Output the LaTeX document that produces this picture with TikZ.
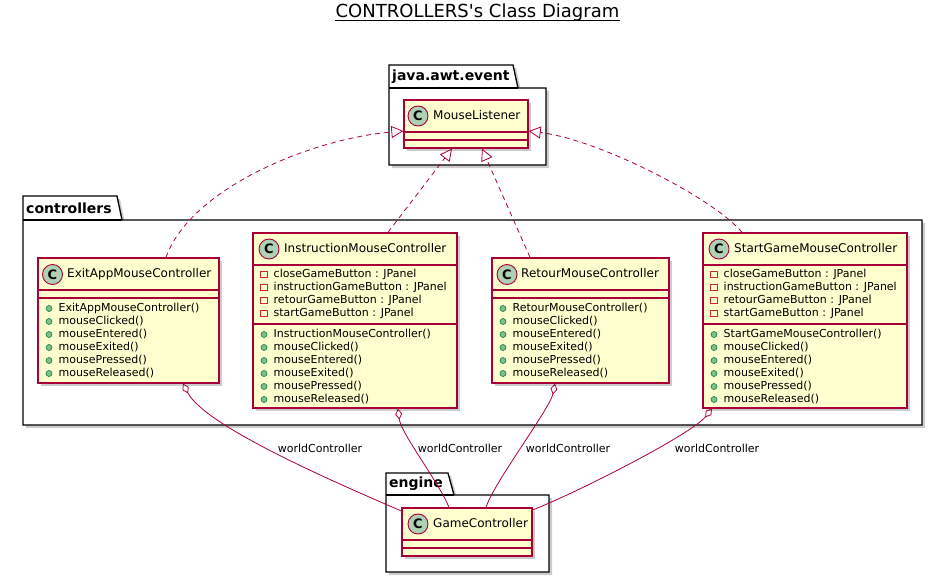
\documentclass[tikz,border=0pt]{standalone}
\usepackage{fontspec}
\setmainfont{DejaVu Sans}
\usetikzlibrary{arrows.meta,shadows,calc}
\definecolor{umlred}{HTML}{A80036}
\definecolor{umlyellow}{HTML}{FEFECE}
\definecolor{circfill}{HTML}{ADD1B2}
\definecolor{pubfill}{HTML}{84BE84}
\definecolor{pubborder}{HTML}{038048}
\definecolor{privborder}{HTML}{C82930}
\tikzset{
  shad/.style={drop shadow={shadow xshift=3pt,shadow yshift=-3pt,fill=black,opacity=0.2}},
  cls/.style={draw=umlred,fill=umlyellow,line width=1.3pt,inner sep=0pt,shad},
  sep/.style={draw=umlred,line width=1.2pt},
  pkg/.style={draw=black,fill=white,line width=1.3pt,shad},
  pkgname/.style={font=\fontsize{14}{16}\selectfont\bfseries,inner sep=0pt,anchor=west},
  circ/.style={circle,draw=umlred,fill=circfill,line width=0.9pt,minimum size=20pt,inner sep=0pt,font=\fontsize{13}{13}\selectfont\bfseries},
  cname/.style={font=\fontsize{12}{14}\selectfont,inner sep=0pt,anchor=west,text height=9pt,text depth=2.5pt},
  member/.style={font=\fontsize{11}{13}\selectfont,inner sep=0pt,anchor=west,text height=8pt,text depth=2.5pt},
  pubdot/.style={circle,draw=pubborder,fill=pubfill,line width=0.6pt,minimum size=6pt,inner sep=0pt},
  privsq/.style={rectangle,draw=privborder,line width=0.8pt,minimum size=6.5pt,inner sep=0pt},
  realize/.style={draw=umlred,line width=0.8pt,dash pattern=on 5pt off 4pt,-{Triangle[open,length=12pt,width=12pt]}},
  aggreg/.style={draw=umlred,line width=0.8pt,{Diamond[open,length=11pt,width=7pt]}-},
  lbl/.style={font=\fontsize{11}{13}\selectfont,inner sep=0pt,text height=8pt,text depth=2.5pt}
}
\newcommand\pubrows[4]{%
  \foreach \t [count=\i] in {#4} {
    \node[pubdot] (#1d\i) at ({#2+11},{#3+13*(\i-1)}) {};
    \node[member] (#1m\i) at ({#2+20.5},{#3+13*(\i-1)}) {\t};
  }}
\newcommand\privrows[4]{%
  \foreach \t [count=\i] in {#4} {
    \node[privsq] (#1s\i) at ({#2+11},{#3+13*(\i-1)}) {};
    \node[member] (#1f\i) at ({#2+20.5},{#3+13*(\i-1)}) {\t};
  }}
\begin{document}
\begin{tikzpicture}[x=1pt,y=-1pt]
\useasboundingbox[fill=white] (0,0) rectangle (944,583);

% title
\node[font=\fontsize{18}{20}\selectfont,inner sep=0pt,anchor=base] (title) at (477.5,17.5) {CONTROLLERS\textquotesingle s Class Diagram};
\draw[line width=0.9pt] ([yshift=-3.3pt]title.base west) -- ([yshift=-3.3pt]title.base east);

% packages
\path[pkg] (389,88) -- (389,65) -- (513,65) -- (518,88) -- (546,88) -- (546,165) -- (389,165) -- cycle;
\draw[line width=1.3pt] (389,88) -- (518,88);
\node[pkgname] (pjava) at (392,77) {java.awt.event};

\path[pkg] (23,220) -- (23,196) -- (117,196) -- (122,220) -- (922,220) -- (922,425) -- (23,425) -- cycle;
\draw[line width=1.3pt] (23,220) -- (122,220);
\node[pkgname] (pctrl) at (26,208) {controllers};

\path[pkg] (386,495) -- (386,473) -- (448,473) -- (454,495) -- (549,495) -- (549,572) -- (386,572) -- cycle;
\draw[line width=1.3pt] (386,495) -- (454,495);
\node[pkgname] (peng) at (389,484) {engine};

% MouseListener
\node[cls,minimum width=124pt,minimum height=48pt] (ml) at (466,124) {};
\draw[sep] (404,132) -- (528,132) (404,140) -- (528,140);
\node[circ] (mlc) at (418,116) {C};
\node[cname] (mln) at (433,116) {MouseListener};

% GameController
\node[cls,minimum width=130pt,minimum height=48pt] (gc) at (467,532) {};
\draw[sep] (402,540) -- (532,540) (402,548) -- (532,548);
\node[circ] (gcc) at (418,524) {C};
\node[cname] (gcn) at (433,524) {GameController};

% ExitAppMouseController
\node[cls,minimum width=181pt,minimum height=125pt] (exit) at (128.5,320.5) {};
\draw[sep] (38,290) -- (219,290) (38,298) -- (219,298);
\node[circ] (exitc) at (52.5,274.5) {C};
\node[cname] (exitn) at (67,274.5) {ExitAppMouseController};
\pubrows{exit}{38}{308.5}{ExitAppMouseController(),mouseClicked(),mouseEntered(),mouseExited(),mousePressed(),mouseReleased()}

% InstructionMouseController
\node[cls,minimum width=204pt,minimum height=175pt] (instr) at (355,320.5) {};
\draw[sep] (253,265) -- (457,265) (253,324) -- (457,324);
\node[circ] (instrc) at (269,249) {C};
\node[cname] (instrn) at (284,249) {InstructionMouseController};
\privrows{instr}{253}{274.5}{closeGameButton : JPanel,instructionGameButton : JPanel,retourGameButton : JPanel,startGameButton : JPanel}
\pubrows{instr}{253}{334.5}{InstructionMouseController(),mouseClicked(),mouseEntered(),mouseExited(),mousePressed(),mouseReleased()}

% RetourMouseController
\node[cls,minimum width=177pt,minimum height=125pt] (retour) at (580.5,320.5) {};
\draw[sep] (492,290) -- (669,290) (492,298) -- (669,298);
\node[circ] (retourc) at (507,274.5) {C};
\node[cname] (retourn) at (521,274.5) {RetourMouseController};
\pubrows{retour}{492}{308.5}{RetourMouseController(),mouseClicked(),mouseEntered(),mouseExited(),mousePressed(),mouseReleased()}

% StartGameMouseController
\node[cls,minimum width=204pt,minimum height=175pt] (start) at (805,320.5) {};
\draw[sep] (703,265) -- (907,265) (703,324) -- (907,324);
\node[circ] (startc) at (719,249) {C};
\node[cname] (startn) at (734,249) {StartGameMouseController};
\privrows{start}{703}{274.5}{closeGameButton : JPanel,instructionGameButton : JPanel,retourGameButton : JPanel,startGameButton : JPanel}
\pubrows{start}{703}{334.5}{StartGameMouseController(),mouseClicked(),mouseEntered(),mouseExited(),mousePressed(),mouseReleased()}

% realizations
\draw[realize] ([xshift=37.5pt]exit.north) .. controls +(24,-68) and +(-94,8) .. ([yshift=-7pt]ml.west);
\draw[realize] ([xshift=33pt]instr.north) -- ([xshift=-14pt]ml.south);
\draw[realize] ([xshift=-50.5pt]retour.north) -- ([xshift=16pt]ml.south);
\draw[realize] ([xshift=-63pt]start.north) .. controls +(-27,-33) and +(72,9) .. ([yshift=-7pt]ml.east);

% aggregations
\draw[aggreg] ([xshift=54.5pt]exit.south) .. controls +(22,42) and +(-72,-31) .. ([yshift=21pt]gc.west);
\draw[aggreg] ([xshift=43pt]instr.south) .. controls +(3,25) and +(-10,-25) .. ([xshift=-18pt]gc.north);
\draw[aggreg] ([xshift=-25.5pt]retour.south) .. controls +(-5,25) and +(8,-25) .. ([xshift=19pt]gc.north);
\draw[aggreg] ([xshift=-93pt]start.south) .. controls +(-20,25) and +(50,-20) .. ([yshift=22pt]gc.east);

\node[lbl] (l1) at (320,450) {worldController};
\node[lbl] (l2) at (460,450) {worldController};
\node[lbl] (l3) at (568,450) {worldController};
\node[lbl] (l4) at (717,450) {worldController};
\end{tikzpicture}
\end{document}
